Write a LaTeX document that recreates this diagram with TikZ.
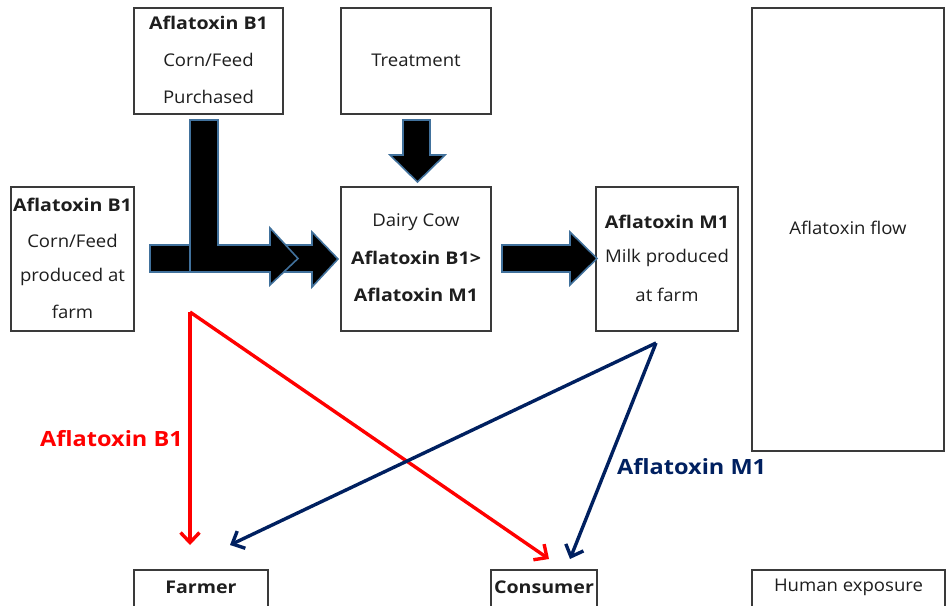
\documentclass[tikz,border=0pt]{standalone}
\usepackage{fontspec}
\setmainfont{Open Sans}[FakeStretch=1.06, BoldFeatures={FakeStretch=1.12}]
\usetikzlibrary{arrows.meta}
\definecolor{navyc}{HTML}{002060}
\definecolor{redc}{HTML}{FF0000}
\definecolor{arrowedge}{HTML}{41719C}
\definecolor{boxedge}{HTML}{3A3A3A}
\definecolor{txt}{HTML}{1E1E1E}
\tikzset{
  box/.style={draw=boxedge, line width=1.4pt, fill=white, inner sep=0pt, text=txt,
    align=center, font=\fontsize{17.5}{36.5}\selectfont},
  blockarrow/.style={fill=black, draw=arrowedge, line width=1.6pt, line join=miter},
  flowline/.style={line width=3.4pt, -{Straight Barb[length=10pt,width=19pt,line width=3.4pt]}},
  lbl/.style={font=\fontsize{21}{24}\selectfont\bfseries, inner sep=0pt},
  tnorm/.style={text=txt, font=\fontsize{17.5}{20}\selectfont},
  tbold/.style={text=txt, font=\fontsize{17.5}{20}\selectfont\bfseries}
}
\begin{document}
\begin{tikzpicture}[x=1pt,y=-1pt]
\useasboundingbox (0,0) rectangle (949,605);
\clip (0,0) rectangle (949,605);
% boxes
\node[box, minimum width=149pt, minimum height=106pt] (purch) at (208.5,61) {};
\node[tbold] (purch1) at (208.5,23) {Aflatoxin B1};
\node[tnorm] (purch2) at (208.5,60) {Corn/Feed};
\node[tnorm] (purch3) at (208.5,97) {Purchased};

\node[box, minimum width=150pt, minimum height=106pt] (treat) at (416,61) {};
\node[tnorm] (treat1) at (416,60) {Treatment};

\node[box, minimum width=123pt, minimum height=144pt] (farmfeed) at (72.5,259) {};
\node[tbold] (ff1) at (72.5,205) {Aflatoxin B1};
\node[tnorm] (ff2) at (72.5,241) {Corn/Feed};
\node[tnorm] (ff3) at (72.5,277) {produced at};
\node[tnorm] (ff4) at (72.5,312) {farm};

\node[box, minimum width=150pt, minimum height=144pt] (cow) at (416,259) {};
\node[tnorm] (cow1) at (416,222) {Dairy Cow};
\node[tbold] (cow2) at (416,258) {Aflatoxin B1>};
\node[tbold] (cow3) at (416,295) {Aflatoxin M1};

\node[box, minimum width=142pt, minimum height=144pt] (milk) at (667,259) {};
\node[tbold] (milk1) at (667,222) {Aflatoxin M1};
\node[tnorm] (milk2) at (667,258) {Milk produced};
\node[tnorm] (milk3) at (667,295) {at farm};

\node[box, minimum width=192pt, minimum height=443pt] (flow) at (848,229.5) {};
\node[tnorm] (flow1) at (848,228) {Aflatoxin flow};

\node[box, minimum width=134pt, minimum height=60pt] (farmer) at (201,600) {};
\node[tbold] (farmer1) at (201,587) {Farmer};
\node[box, minimum width=106pt, minimum height=60pt] (consumer) at (544,600) {};
\node[tbold] (consumer1) at (544,587) {Consumer};
\node[box, minimum width=193pt, minimum height=60pt] (human) at (848.5,600) {};
\node[tnorm] (human1) at (848.5,587) {Human exposure};

% block arrows
\draw[blockarrow] (262,245) -- (312,245) -- (312,232) -- (338,259) -- (312,287) -- (312,272) -- (262,272) -- cycle;
\draw[blockarrow] (150,245) -- (192,245) -- (192,272) -- (150,272) -- cycle;
\draw[blockarrow] (190,120) -- (218,120) -- (218,245) -- (270,245) -- (270,228) -- (298,258.5) -- (270,285) -- (270,272) -- (190,272) -- cycle;
\draw[blockarrow] (403,120) -- (430,120) -- (430,155) -- (445,155) -- (417.5,182) -- (390,155) -- (403,155) -- cycle;
\draw[blockarrow] (502,245) -- (570,245) -- (570,232) -- (597,258.5) -- (570,285) -- (570,272) -- (502,272) -- cycle;

% flow lines
\coordinate (rv) at (190,312);
\coordinate (nv) at (656,343);
\coordinate (farmerR) at (190,545);
\coordinate (consR) at (549,559);
\coordinate (farmerN) at (230,545);
\coordinate (consN) at (570,559);
\draw[flowline, redc] (rv) -- (farmerR);
\draw[flowline, redc] (rv) -- (consR);
\draw[flowline, navyc] (nv) -- (farmerN);
\draw[flowline, navyc] (nv) -- (consN);

\node[lbl, text=redc, anchor=west] (lblB) at (40,439) {Aflatoxin B1};
\node[lbl, text=navyc, anchor=west] (lblM) at (617,467) {Aflatoxin M1};
\end{tikzpicture}
\end{document}
